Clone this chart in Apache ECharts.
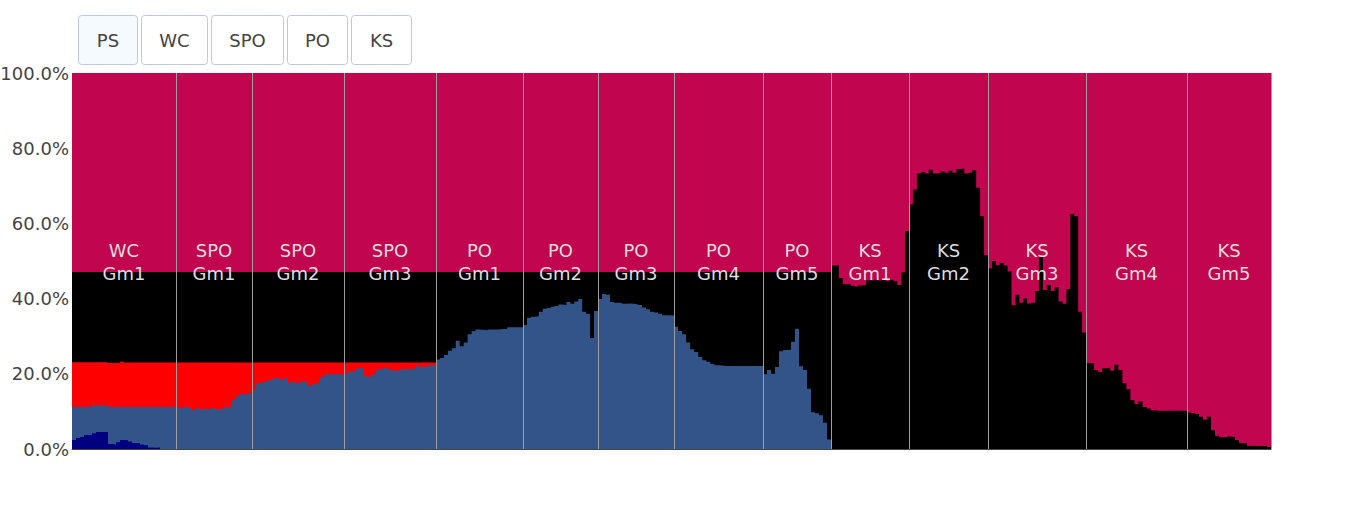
<!DOCTYPE html>
<html>
<head>
<meta charset="utf-8">
<script src="https://cdn.jsdelivr.net/npm/echarts@6/dist/echarts.min.js"></script>
<style>
html,body{margin:0;padding:0;background:#fff;}
#chart{width:1345px;height:524px;}
</style>
</head>
<body>
<div id="chart"></div>
<script>
// ---- data ----
const buttonLabels = ['PS', 'WC', 'SPO', 'PO', 'KS'];
const gameNames = ['WC\nGm1', 'SPO\nGm1', 'SPO\nGm2', 'SPO\nGm3', 'PO\nGm1', 'PO\nGm2', 'PO\nGm3', 'PO\nGm4', 'PO\nGm5', 'KS\nGm1', 'KS\nGm2', 'KS\nGm3', 'KS\nGm4', 'KS\nGm5'];
const gamePlays = [104, 76, 92, 92, 87, 75, 76, 89, 68, 78, 79, 98, 101, 84];
const yTicks = [0, 20, 40, 60, 80, 100];

// cumulative level (top edge, %) of each band, sampled evenly within each game
const navyLevels = [
  [2.4, 2.9, 3.2, 3.7, 3.7, 4.2, 4.5, 4.5, 4.5, 1.3, 1.2, 1.8, 2.4, 2.3, 2.0, 1.6, 1.5, 1.2, 1.0, 0.4, 0.3, 0.4, 0, 0, 0, 0]
];
const blueLevels = [
  [11.2, 11.2, 11.2, 11.2, 11.2, 11.6, 11.6, 11.6, 11.6, 11.2, 11.2, 11.2, 11.2, 11.2, 11.2, 11.2, 11.2, 11.2, 11.2, 11.2, 11.2, 11.2, 11.2, 11.2, 11.2, 11.2],
  [11.0, 11.1, 11.2, 11.0, 10.4, 10.9, 10.5, 10.7, 10.6, 10.9, 10.5, 10.7, 11.1, 11.1, 13.0, 14.0, 14.7, 14.5, 14.8],
  [15.7, 17.4, 17.6, 17.9, 18.3, 18.7, 18.9, 18.4, 18.8, 17.6, 17.9, 17.5, 17.9, 17.8, 16.8, 17.2, 17.5, 19.0, 19.7, 19.9, 19.9, 19.9, 19.9],
  [19.9, 20.6, 20.6, 21.4, 21.6, 19.5, 19.2, 19.8, 21.0, 21.3, 21.6, 21.2, 20.9, 20.8, 21.2, 21.2, 21.3, 21.4, 22.0, 21.8, 21.8, 22.2, 22.3],
  [23.8, 24.2, 25.0, 26.1, 26.8, 28.8, 27.3, 28.3, 30.5, 31.3, 31.8, 31.7, 31.6, 31.8, 31.8, 31.8, 31.9, 31.9, 32.4, 32.4, 32.4, 32.4],
  [33.0, 34.9, 35.2, 35.3, 36.5, 37.3, 37.5, 37.8, 38.0, 38.4, 38.3, 39.1, 38.6, 39.2, 39.9, 36.5, 36.0, 29.5, 36.7],
  [39.9, 41.2, 41.0, 39.1, 38.9, 38.8, 38.6, 38.7, 38.6, 38.5, 38.3, 37.6, 37.2, 36.5, 36.3, 36.0, 35.6, 35.6, 35.5],
  [32.5, 31.4, 30.5, 28.3, 26.5, 25.8, 24.5, 23.6, 23.2, 22.6, 22.3, 22.2, 22.1, 22.1, 22.1, 22.1, 22.1, 22.1, 22.1, 22.1, 22.1, 22.1],
  [19.9, 21.0, 20.0, 21.8, 26.0, 26.3, 26.4, 28.5, 32.0, 22.0, 21.0, 16.0, 9.8, 9.5, 9.0, 7.0, 2.5]
];
const redLevels = [
  [23.1, 23.1, 23.1, 23.1, 23.1, 23.1, 23.1, 23.1, 23.1, 22.9, 22.9, 22.9, 23.2, 23.0, 23.0, 23.0, 23.0, 23.0, 23.0, 23.0, 23.0, 23.0, 23.0, 23.0, 23.0, 23.0],
  [23.0], [23.0], [23.0]
];
const blackLevels = [
  [47.1], [47.1], [47.1], [47.1], [47.1], [47.1], [47.1], [47.1], [47.1],
  [48.8, 48.9, 45.5, 43.8, 43.9, 43.4, 43.2, 43.5, 43.6, 44.9, 44.8, 45.0, 44.8, 45.0, 44.6, 45.0, 44.6, 43.6, 47.0, 58.0],
  [65.0, 69.0, 73.3, 73.7, 73.3, 74.3, 73.3, 73.4, 73.8, 73.5, 74.0, 73.5, 74.5, 74.6, 73.3, 73.5, 74.2, 69.5, 62.0, 51.5],
  [48.0, 50.0, 48.9, 49.5, 48.8, 47.2, 38.2, 41.0, 38.9, 40.0, 38.7, 38.9, 42.0, 51.0, 42.3, 43.6, 42.0, 43.0, 39.2, 38.6, 42.5, 62.5, 62.0, 36.5, 31.0],
  [22.8, 22.8, 21.0, 20.5, 21.5, 21.6, 20.8, 22.4, 21.0, 17.5, 15.9, 13.0, 12.0, 12.6, 11.2, 10.8, 10.3, 10.2, 10.2, 10.2, 10.2, 10.2, 10.2, 10.2, 10.2],
  [9.7, 9.5, 9.3, 8.6, 7.8, 8.6, 5.0, 3.5, 3.1, 3.1, 3.3, 3.2, 2.4, 1.5, 1.5, 0.8, 0.8, 0.8, 0.8, 0.8, 0.5]
];
const crimsonLevels = [[100], [100], [100], [100], [100], [100], [100], [100], [100], [100], [100], [100], [100], [100]];
const labelLevel = 50;

// ---- build ----
const gameStarts = [];
let acc = 0;
gamePlays.forEach(p => { gameStarts.push(acc); acc += p; });
const totalPlays = acc;
const gameEnds = gameStarts.map((s, i) => s + gamePlays[i]);

function buildPoints(levels) {
  const pts = [];
  let last = 0, end = 0;
  levels.forEach((arr, g) => {
    const start = gameStarts[g], len = gamePlays[g];
    arr.forEach((v, i) => pts.push([start + i * len / arr.length, v]));
    end = start + len;
    last = arr[arr.length - 1];
  });
  pts.push([end, last]);
  return pts;
}

const FONT = 'DejaVu Sans';
function band(name, color, levels) {
  return {
    name: name,
    type: 'line',
    step: 'end',
    showSymbol: false,
    symbol: 'none',
    silent: true,
    lineStyle: { width: 0, color: color },
    itemStyle: { color: color },
    areaStyle: { color: color, opacity: 1 },
    data: buildPoints(levels)
  };
}

const buttonWidths = [60, 67, 73, 61, 61];
const graphics = [];
let bx = 78;
buttonLabels.forEach((lab, i) => {
  const w = buttonWidths[i];
  graphics.push({
    type: 'group',
    left: bx, top: 15,
    children: [
      { type: 'rect', shape: { x: 0.5, y: 0.5, width: w - 1, height: 49, r: 3 },
        style: { fill: i === 0 ? '#F4FAFF' : '#FFFFFF', stroke: '#BEC8D9', lineWidth: 1 } },
      { type: 'text', x: w / 2, y: 25,
        style: { text: lab, fill: '#444444', font: '18px "DejaVu Sans"', align: 'center', verticalAlign: 'middle' } }
    ]
  });
  bx += w + 3;
});

const chart = echarts.init(document.getElementById('chart'), null, { renderer: 'svg' });
chart.setOption({
  animation: false,
  backgroundColor: '#ffffff',
  textStyle: { fontFamily: FONT },
  grid: { left: 72, right: 74, top: 73, bottom: 75, containLabel: false, outerBoundsMode: 'none' },
  xAxis: {
    type: 'value', min: 0, max: totalPlays,
    axisLine: { show: true, onZero: false, lineStyle: { color: '#444', width: 1 } },
    axisTick: { show: false }, axisLabel: { show: false }, splitLine: { show: false }
  },
  yAxis: {
    type: 'value', min: yTicks[0], max: yTicks[yTicks.length - 1], interval: 20,
    axisLine: { show: false }, axisTick: { show: false }, splitLine: { show: false },
    axisLabel: { formatter: v => v.toFixed(1) + '%', fontSize: 18, color: '#444', fontFamily: FONT, margin: 3 }
  },
  graphic: graphics,
  series: [
    band('Band 5', '#C2054F', crimsonLevels),
    band('Band 4', '#000000', blackLevels),
    band('Band 3', '#FF0000', redLevels),
    band('Band 2', '#325488', blueLevels),
    band('Band 1', '#000080', navyLevels),
    {
      name: 'games',
      type: 'custom',
      silent: true,
      z: 10,
      data: gameStarts.map((s, i) => [s + gamePlays[i] / 2, labelLevel, i]),
      renderItem: function (params, api) {
        const pt = api.coord([api.value(0), api.value(1)]);
        return {
          type: 'text',
          x: pt[0], y: pt[1] + 1,
          style: {
            text: gameNames[api.value(2)],
            fill: '#DDDDDD',
            font: '18px "DejaVu Sans"',
            lineHeight: 23,
            align: 'center',
            verticalAlign: 'middle'
          }
        };
      },
      markLine: {
        silent: true, symbol: ['none', 'none'],
        label: { show: false },
        lineStyle: { color: '#9E9E9E', width: 1, type: 'solid' },
        data: gameEnds.map(x => ({ xAxis: x }))
      }
    }
  ]
});
</script>
</body>
</html>
